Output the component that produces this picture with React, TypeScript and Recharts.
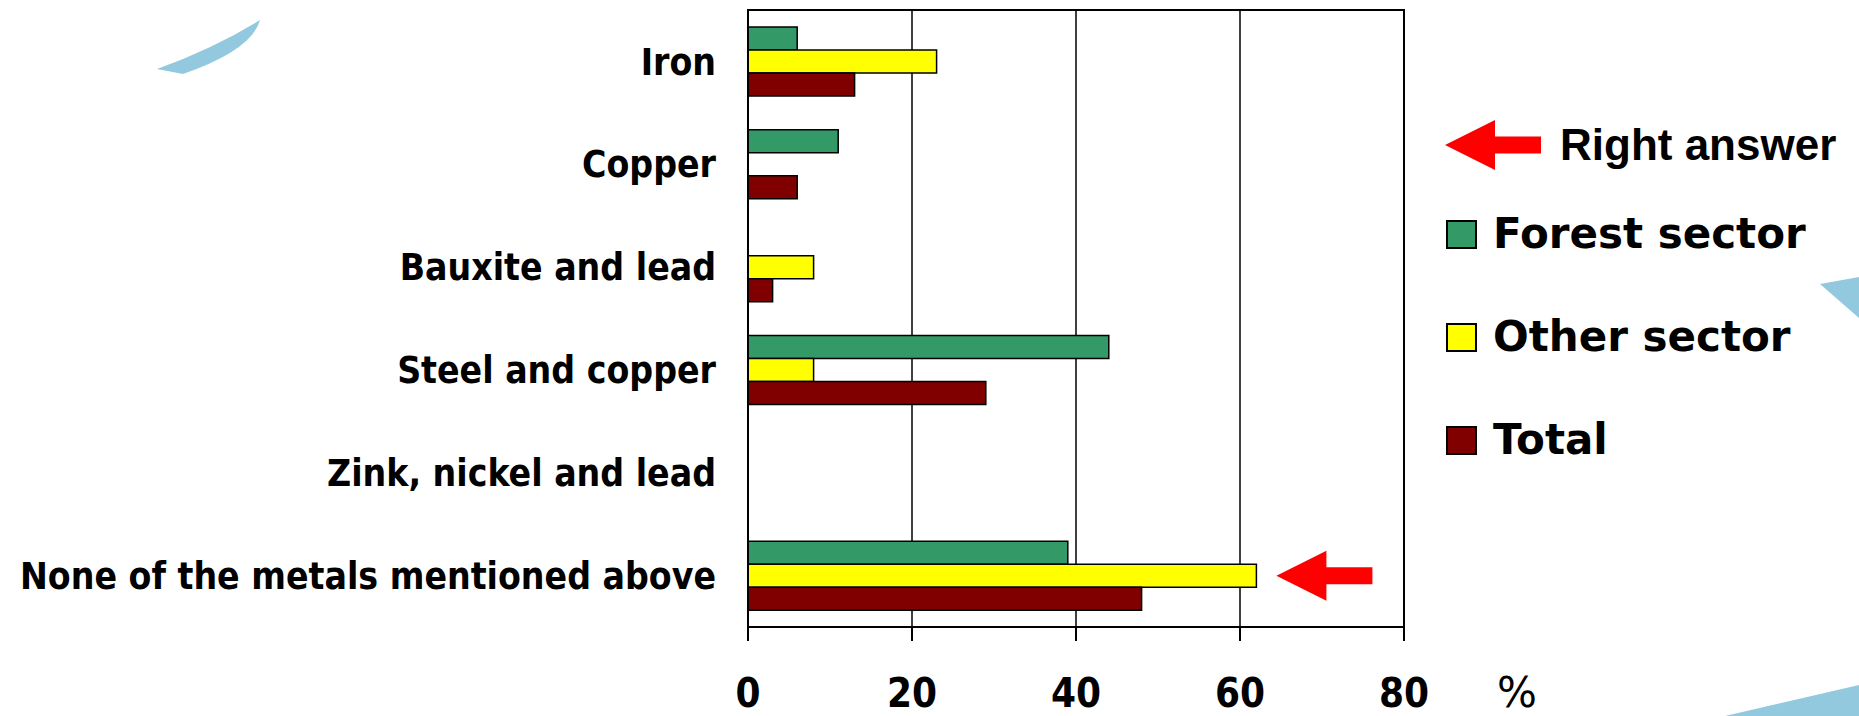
import React from 'react'
import {
  BarChart,
  Bar,
  XAxis,
  YAxis,
  CartesianGrid,
  Legend,
  LabelList,
  Label,
  ReferenceArea
} from 'recharts'

const categories = [
  'Iron',
  'Copper',
  'Bauxite and lead',
  'Steel and copper',
  'Zink, nickel and lead',
  'None of the metals mentioned above'
]
const forestSector = [6, 11, 0, 44, 0, 39]
const otherSector = [23, 0, 8, 8, 0, 62]
const total = [13, 6, 3, 29, 0, 48]
const xTicks = [0, 20, 40, 60, 80]
const rightAnswer = 'None of the metals mentioned above'

const data = categories.map((name, i) => ({
  name,
  forest: forestSector[i],
  other: otherSector[i],
  total: total[i],
  answer: name === rightAnswer ? 'right' : ''
}))

const labelFont = '"DejaVu Sans Condensed", "DejaVu Sans", sans-serif'
const legendFont = '"DejaVu Sans", sans-serif'

const LeftArrow = ({ x, y }: { x: number; y: number }) => (
  // x = tip, y = vertical centre
  <polygon
    points={`${x},${y} ${x + 50},${y - 25} ${x + 50},${y - 8.5} ${x + 96},${y - 8.5} ${x + 96},${y + 8.5} ${x + 50},${y + 8.5} ${x + 50},${y + 25}`}
    fill="#ff0000"
  />
)

// LabelList reads the "answer" field, only the right answer gets an arrow
const renderAnswerArrow = (props: any) => {
  const vb = props.viewBox ?? props
  if (props.value !== 'right') return null
  const x = Number(vb.x) + Number(vb.width)
  const y = Number(vb.y) + Number(vb.height) / 2
  if (!isFinite(x) || !isFinite(y)) return null
  return <LeftArrow x={x + 20} y={y} />
}

const renderLegend = (props: any) => {
  const { payload = [] } = props
  return (
    <div style={{ display: 'flex', flexDirection: 'column' }}>
      <div style={{ display: 'flex', alignItems: 'center', height: 50 }}>
        <svg width={100} height={50} style={{ marginLeft: 5 }}>
          <LeftArrow x={0} y={25} />
        </svg>
        <span
          style={{
            marginLeft: 15,
            fontFamily: '"Liberation Sans", Arial, sans-serif',
            fontWeight: 'bold',
            fontSize: 44,
            lineHeight: 1,
            color: '#000'
          }}
        >
          Right answer
        </span>
      </div>
      {payload.map((entry: any, i: number) => (
        <div
          key={entry.value}
          style={{ display: 'flex', alignItems: 'center', height: 60, marginTop: i === 0 ? 34 : 43 }}
        >
          <div
            style={{
              marginLeft: 6,
              width: 31,
              height: 29,
              boxSizing: 'border-box',
              border: '2px solid #000',
              background: entry.color
            }}
          />
          <span
            style={{
              marginLeft: 16,
              fontFamily: legendFont,
              fontWeight: 'bold',
              fontSize: 42,
              lineHeight: 1,
              color: '#000'
            }}
          >
            {entry.value}
          </span>
        </div>
      ))}
    </div>
  )
}

const renderPercent = (props: any) => {
  const { viewBox } = props
  return (
    <text
      x={viewBox.x + viewBox.width + 113}
      y={viewBox.y + 80}
      textAnchor="middle"
      fontSize={42}
      fontFamily={legendFont}
      fill="#000"
    >
      %
    </text>
  )
}

export default function App() {
  return (
    <div style={{ position: 'absolute', left: 0, top: 0, width: 1859, height: 716, background: '#fff' }}>
      <svg
        width={1859}
        height={716}
        style={{ position: 'absolute', left: 0, top: 0, pointerEvents: 'none' }}
      >
        <path d="M157,69 Q215,48 260,20 Q252,50 183,74 Z" fill="#93c9de" />
        <path d="M1820,284 L1859,277 L1859,318 Z" fill="#93c9de" />
        <path d="M1725,716 L1859,685 L1859,716 Z" fill="#93c9de" />
      </svg>
      <div style={{ position: 'absolute', left: 0, top: 0 }}>
        <BarChart
          width={1859}
          height={716}
          data={data}
          layout="vertical"
          margin={{ top: 10, right: 455, bottom: 0, left: 0 }}
          barCategoryGap="16.5%"
          barGap={0}
        >
          <CartesianGrid horizontal={false} stroke="#000" strokeWidth={1.5} />
          <XAxis
            type="number"
            domain={[0, 80]}
            ticks={xTicks}
            height={89}
            tickSize={14}
            tickMargin={38}
            axisLine={{ stroke: '#000', strokeWidth: 2 }}
            tickLine={{ stroke: '#000', strokeWidth: 2 }}
            tick={{
              fontSize: 40,
              fontWeight: 'bold',
              fill: '#000',
              fontFamily: labelFont,
              fontStretch: 'condensed'
            }}
          >
            <Label content={renderPercent} />
          </XAxis>
          <YAxis
            type="category"
            dataKey="name"
            width={748}
            tickSize={0}
            tickMargin={32}
            axisLine={{ stroke: '#000', strokeWidth: 2 }}
            tickLine={false}
            interval={0}
            tick={{
              fontSize: 37,
              fontWeight: 'bold',
              fill: '#000',
              fontFamily: labelFont,
              fontStretch: 'condensed'
            }}
          />
          <ReferenceArea x1={0} x2={80} fill="none" stroke="#000" strokeWidth={2} fillOpacity={0} />
          <Legend
            layout="vertical"
            align="center"
            verticalAlign="middle"
            content={renderLegend}
            wrapperStyle={{ left: 1440, top: 120, width: 419 }}
          />
          <Bar dataKey="forest" name="Forest sector" fill="#339966" stroke="#000" strokeWidth={1.5} isAnimationActive={false} />
          <Bar dataKey="other" name="Other sector" fill="#ffff00" stroke="#000" strokeWidth={1.5} isAnimationActive={false}>
            <LabelList dataKey="answer" content={renderAnswerArrow} />
          </Bar>
          <Bar dataKey="total" name="Total" fill="#800000" stroke="#000" strokeWidth={1.5} isAnimationActive={false} />
        </BarChart>
      </div>
    </div>
  )
}
